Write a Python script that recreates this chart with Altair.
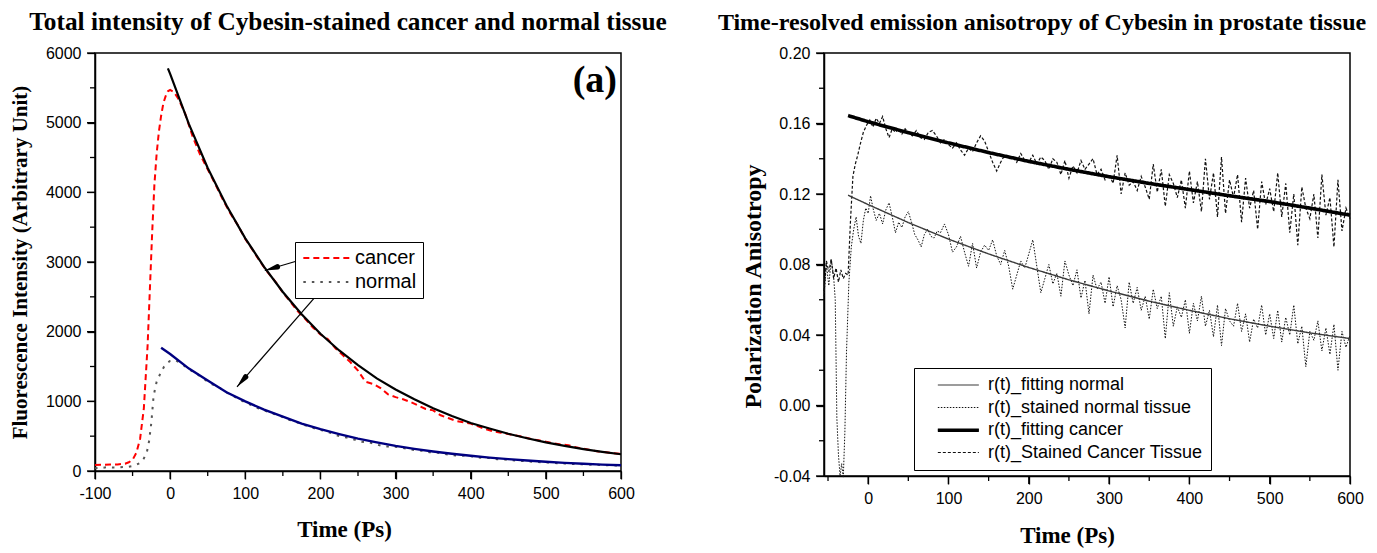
import math
import altair as alt
import pandas as pd

# ---------------- Panel (a): total fluorescence intensity ----------------
cancer_t = [-100, -90, -80, -70, -60, -55, -50, -45, -40, -35, -30, -27, -24, -21, -18, -15, -12, -9, -6, -3,
            0, 5, 10, 15, 20, 30, 40, 50, 60, 70, 80, 90, 100, 110, 120, 130, 140, 150, 160, 170, 180, 190,
            200, 210, 220, 230, 240, 250, 260, 270, 280, 290, 300, 310, 320, 330, 340, 350, 360, 370, 380,
            390, 400, 410, 420, 430, 440, 450, 460, 470, 480, 490, 500, 510, 520, 530, 540, 550, 560, 570,
            580, 590, 600]
cancer_v = [85, 90, 92, 95, 105, 125, 160, 260, 460, 900, 1800, 2600, 3400, 4100, 4550, 4870, 5100, 5280, 5380, 5450,
            5470, 5440, 5360, 5250, 5130, 4800, 4540, 4330, 4120, 3900, 3700, 3530, 3330, 3170, 3000, 2850, 2720,
            2560, 2430, 2290, 2180, 2060, 1960, 1890, 1760, 1660, 1560, 1440, 1280, 1250, 1190, 1100, 1060, 1030,
            990, 940, 890, 870, 800, 760, 720, 700, 680, 640, 600, 570, 550, 530, 510, 490, 460, 440, 420, 400,
            380, 370, 340, 320, 300, 280, 270, 255, 245]

normal_t = [-100, -90, -84, -74, -66, -55, -48, -40, -35, -31, -28, -25, -22, -18, -13, -8, -4, 0, 7, 15, 25, 35,
            45, 55, 65, 75, 85, 95, 105, 115, 125, 135, 145, 155, 165, 175, 185, 195, 205, 215, 225, 235, 245,
            255, 265, 275, 285, 295, 305, 315, 325, 335, 345, 355, 365, 375, 385, 395, 405, 415, 425, 435, 445,
            455, 465, 475, 485, 495, 505, 515, 525, 535, 545, 555, 565, 575, 585, 595, 600]
normal_v = [40, 45, 55, 50, 55, 60, 75, 115, 180, 270, 430, 700, 1080, 1280, 1400, 1500, 1550, 1580, 1590, 1540,
            1460, 1400, 1320, 1250, 1200, 1130, 1070, 1010, 960, 910, 870, 830, 800, 740, 720, 670, 640, 600, 580,
            540, 500, 480, 450, 420, 410, 380, 350, 355, 340, 320, 300, 290, 270, 265, 245, 230, 215, 225, 200,
            190, 185, 170, 165, 155, 145, 140, 130, 125, 120, 112, 108, 100, 98, 92, 90, 85, 82, 80, 80]

fitc_t = [-3, 0, 25, 50, 75, 100, 125, 150, 175, 200, 225, 250, 275, 300, 325, 350, 375, 400, 425, 450, 475,
          500, 525, 550, 575, 600]
fitc_v = [5780, 5700, 4980, 4350, 3810, 3340, 2930, 2570, 2250, 1970, 1730, 1520, 1330, 1170, 1030, 900, 790,
          690, 610, 535, 470, 410, 360, 315, 275, 240]

fitn_t = [-12, 0, 25, 50, 75, 100, 125, 150, 175, 200, 225, 250, 275, 300, 325, 350, 375, 400, 425, 450, 475,
          500, 525, 550, 575, 600]
fitn_v = [1770, 1680, 1470, 1300, 1130, 1000, 880, 780, 680, 600, 530, 465, 410, 360, 318, 280, 247, 218, 192,
          170, 150, 132, 117, 104, 92, 82]

arrow_x1 = [189, 205]
arrow_y1 = [3079, 2647]
arrow_x2 = [126, 89]
arrow_y2 = [2878, 1209]

panel_label = ["(a)"]
panel_label_x = [600]
panel_label_y = [5600]

# ---------------- Panel (b): anisotropy ----------------
fit_norm_t = [-25, 0, 50, 100, 150, 200, 250, 300, 350, 400, 450, 500, 550, 600]
fit_norm_v = [0.1193, 0.1140, 0.1038, 0.0944, 0.0860, 0.0783, 0.0713, 0.0650, 0.0592, 0.0540, 0.0492, 0.0450,
              0.0412, 0.0380]
fit_canc_t = [-25, 0, 50, 100, 150, 200, 250, 300, 350, 400, 450, 500, 550, 600]
fit_canc_v = [0.1645, 0.1610, 0.1548, 0.1490, 0.1435, 0.1385, 0.1340, 0.1298, 0.1260, 0.1225, 0.1190, 0.1157,
              0.1120, 0.1080]

canc_t = [-55, -52, -49, -46, -43, -40, -37, -34, -31, -28, -25, -22, -19, -16, -13, -10, -6, -2, 2, 6, 10, 14,
          18, 22, 26, 30, 34, 38, 42, 46, 50, 55, 60, 65, 70, 75, 80, 85, 90, 95, 100, 105, 110, 115, 120, 125,
          130, 135, 140, 145, 150, 155, 160, 165, 170, 175, 180, 185, 190, 195, 200, 205, 210, 215, 220, 225,
          230, 235, 240, 245, 250, 255, 260, 265, 270, 275, 280, 285, 290, 295, 300, 305, 310, 315, 320, 325,
          330, 335, 340, 345, 350, 355, 360, 365, 370, 375, 380, 385, 390, 395, 400, 405, 410, 415, 420, 425,
          430, 435, 440, 445, 450, 455, 460, 465, 470, 475, 480, 485, 490, 495, 500, 505, 510, 515, 520, 525,
          530, 535, 540, 545, 550, 555, 560, 565, 570, 575, 580, 585, 590, 595, 600]
canc_v = [0.065, 0.082, 0.076, 0.083, 0.072, 0.078, 0.070, 0.077, 0.072, 0.075, 0.074, 0.105, 0.130, 0.137,
          0.142, 0.148, 0.155, 0.159, 0.162, 0.158, 0.163, 0.160, 0.164, 0.157, 0.152, 0.157, 0.155, 0.157,
          0.154, 0.157, 0.155, 0.153, 0.156, 0.152, 0.151, 0.155, 0.156, 0.153, 0.149, 0.151, 0.148, 0.146,
          0.149, 0.145, 0.142, 0.146, 0.144, 0.149, 0.153, 0.150, 0.144, 0.138, 0.133, 0.138, 0.142, 0.140,
          0.141, 0.138, 0.143, 0.139, 0.138, 0.142, 0.137, 0.141, 0.139, 0.134, 0.140, 0.138, 0.131, 0.139,
          0.129, 0.136, 0.132, 0.139, 0.134, 0.137, 0.140, 0.131, 0.134, 0.128, 0.131, 0.126, 0.142, 0.120,
          0.132, 0.125, 0.127, 0.122, 0.130, 0.124, 0.117, 0.137, 0.121, 0.134, 0.113, 0.131, 0.126, 0.118,
          0.128, 0.112, 0.133, 0.115, 0.127, 0.110, 0.140, 0.117, 0.132, 0.107, 0.141, 0.109, 0.128, 0.118,
          0.131, 0.104, 0.129, 0.112, 0.122, 0.100, 0.127, 0.114, 0.123, 0.110, 0.132, 0.107, 0.126, 0.098,
          0.120, 0.091, 0.124, 0.112, 0.106, 0.120, 0.095, 0.131, 0.108, 0.118, 0.090, 0.128, 0.099, 0.112,
          0.106]

norm_t = [-55, -52, -49, -46, -43, -41, -39, -37, -35, -33, -31, -29, -27, -24, -21, -18, -15, -12, -9, -6, -3,
          0, 3, 6, 10, 14, 18, 22, 26, 30, 34, 38, 42, 46, 50, 54, 58, 62, 66, 70, 74, 78, 82, 86, 90, 95, 100,
          105, 110, 115, 120, 125, 130, 135, 140, 145, 150, 155, 160, 165, 170, 175, 180, 185, 190, 195, 200,
          205, 210, 215, 220, 225, 230, 235, 240, 245, 250, 255, 260, 265, 270, 275, 280, 285, 290, 295, 300,
          305, 310, 315, 320, 325, 330, 335, 340, 345, 350, 355, 360, 365, 370, 375, 380, 385, 390, 395, 400,
          405, 410, 415, 420, 425, 430, 435, 440, 445, 450, 455, 460, 465, 470, 475, 480, 485, 490, 495, 500,
          505, 510, 515, 520, 525, 530, 535, 540, 545, 550, 555, 560, 565, 570, 575, 580, 585, 590, 595, 600]
norm_v = [0.062, 0.080, 0.068, 0.083, 0.073, 0.060, -0.007, -0.028, -0.040, -0.033, -0.041, -0.015, 0.030,
          0.070, 0.090, 0.100, 0.107, 0.096, 0.092, 0.105, 0.112, 0.109, 0.119, 0.112, 0.105, 0.109, 0.103,
          0.111, 0.115, 0.107, 0.098, 0.104, 0.101, 0.107, 0.110, 0.104, 0.097, 0.094, 0.090, 0.097, 0.100,
          0.096, 0.095, 0.099, 0.098, 0.103, 0.097, 0.087, 0.090, 0.096, 0.087, 0.079, 0.092, 0.078, 0.087,
          0.091, 0.088, 0.094, 0.085, 0.080, 0.088, 0.079, 0.066, 0.074, 0.082, 0.078, 0.086, 0.094, 0.079,
          0.064, 0.072, 0.080, 0.069, 0.075, 0.062, 0.082, 0.074, 0.068, 0.077, 0.061, 0.071, 0.052, 0.074,
          0.066, 0.070, 0.058, 0.073, 0.056, 0.068, 0.060, 0.044, 0.070, 0.058, 0.067, 0.054, 0.062, 0.049,
          0.066, 0.055, 0.062, 0.038, 0.064, 0.045, 0.056, 0.050, 0.060, 0.041, 0.058, 0.048, 0.062, 0.045,
          0.054, 0.039, 0.057, 0.034, 0.055, 0.048, 0.045, 0.058, 0.042, 0.052, 0.036, 0.049, 0.044, 0.057,
          0.040, 0.052, 0.038, 0.054, 0.036, 0.050, 0.040, 0.057, 0.035, 0.045, 0.022, 0.042, 0.037, 0.048,
          0.031, 0.044, 0.029, 0.046, 0.020, 0.042, 0.033, 0.040]

aniso_series = ["r(t)_fitting normal", "r(t)_stained normal tissue", "r(t)_fitting cancer",
                "r(t)_Stained Cancer Tissue"]

left_major_x = list(range(-100, 601, 100))
left_minor_x = list(range(-50, 601, 100))
left_major_y = list(range(0, 6001, 1000))
left_minor_y = list(range(500, 6001, 1000))
right_major_x = list(range(0, 601, 100))
right_minor_x = list(range(-50, 601, 100))
right_major_y = [-0.04, 0.0, 0.04, 0.08, 0.12, 0.16, 0.20]
right_minor_y = [-0.02, 0.02, 0.06, 0.10, 0.14, 0.18]

SERIF = "Liberation Serif"
SANS = "Liberation Sans"

W_A, H_A = 526, 418
W_B, H_B = 526, 423
XDOM_A, YDOM_A = [-100, 600], [0, 6000]
XDOM_B, YDOM_B = [-55, 600], [-0.04, 0.20]
MAJOR, MINOR = 8, 5

# ---------------- build tables ----------------
dfa_data = pd.concat([
    pd.DataFrame({"t": cancer_t, "v": cancer_v, "series": "cancer"}),
    pd.DataFrame({"t": normal_t, "v": normal_v, "series": "normal"}),
])
dfa_fitc = pd.DataFrame({"t": fitc_t, "v": fitc_v})
dfa_fitn = pd.DataFrame({"t": fitn_t, "v": fitn_v})
dfa_arrow = pd.DataFrame({"t": arrow_x1, "v": arrow_y1, "t2": arrow_x2, "v2": arrow_y2})
dfa_label = pd.DataFrame({"t": panel_label_x, "v": panel_label_y, "label": panel_label})

# arrowheads: tapered trail from a point 13 px back along each arrow to its tip
px_x = W_A / (XDOM_A[1] - XDOM_A[0])
px_y = H_A / (YDOM_A[1] - YDOM_A[0])
head_rows = []
for i, (x1, y1, x2, y2) in enumerate(zip(arrow_x1, arrow_y1, arrow_x2, arrow_y2)):
    dx, dy = (x2 - x1) * px_x, (y2 - y1) * px_y
    n = math.hypot(dx, dy)
    ux, uy = dx / n, dy / n
    head_rows.append({"id": i, "k": 0, "t": x2 - 13 * ux / px_x, "v": y2 - 13 * uy / px_y, "w": 5.5})
    head_rows.append({"id": i, "k": 1, "t": x2, "v": y2, "w": 0.1})
dfa_head = pd.DataFrame(head_rows)

dfb = pd.concat([
    pd.DataFrame({"t": norm_t, "v": norm_v, "series": aniso_series[1]}),
    pd.DataFrame({"t": canc_t, "v": canc_v, "series": aniso_series[3]}),
    pd.DataFrame({"t": fit_norm_t, "v": fit_norm_v, "series": aniso_series[0]}),
    pd.DataFrame({"t": fit_canc_t, "v": fit_canc_v, "series": aniso_series[2]}),
])


def major_axis(values, label_text, title, title_size, title_pad, **kw):
    args = dict(
        values=values, title=title, grid=False, labelExpr=label_text, ticks=True,
        tickSize=MAJOR, tickColor="black", tickWidth=1.3, domainColor="black", domainWidth=1.5,
        labelFont=SANS, labelFontSize=16, labelColor="black", labelPadding=6,
        titleFont=SERIF, titleFontSize=title_size, titleFontWeight="bold", titleColor="black",
        titlePadding=title_pad, labelFlush=False, labelOverlap=False,
    )
    args.update(kw)
    return alt.Axis(**args)


def tick_layers(xenc, yenc, height, xmaj, xmin, ymaj, ymin):
    """Outward tick marks drawn through the panel's own scales."""
    layers = []
    for vals, size in ((xmaj, MAJOR), (xmin, MINOR)):
        layers.append(alt.Chart(pd.DataFrame({"t": vals})).mark_rule(color="black", strokeWidth=1.3).encode(
            x=xenc, y=alt.value(height), y2=alt.value(height + size)))
    for vals, size in ((ymaj, MAJOR), (ymin, MINOR)):
        layers.append(alt.Chart(pd.DataFrame({"v": vals})).mark_rule(color="black", strokeWidth=1.3).encode(
            y=yenc, x=alt.value(0), x2=alt.value(-size)))
    return layers


INT_LABEL = "'' + datum.value"
DEC_LABEL = "replace(format(datum.value, '.2f'), '\u2212', '-')"

sx_a = alt.Scale(domain=XDOM_A, nice=False, zero=False)
sy_a = alt.Scale(domain=YDOM_A, nice=False, zero=False)
xa = alt.X("t:Q", scale=sx_a, axis=major_axis(left_major_x, INT_LABEL, "Time (Ps)", 23, 17, titleX=249))
ya = alt.Y("v:Q", scale=sy_a, axis=major_axis(left_major_y, INT_LABEL,
                                              "Fluorescence Intensity (Arbitrary Unit)", 21, 15))

legend_a = alt.Legend(title=None, orient="none", legendX=200, legendY=189, strokeColor="black",
                      fillColor="white", padding=6, labelFont=SANS, labelFontSize=20, labelColor="black",
                      symbolType="M-1,0H5", symbolSize=235, symbolStrokeWidth=1.8, labelOffset=34,
                      rowPadding=4)

a_data = alt.Chart(dfa_data).mark_line().encode(
    x=xa, y=ya,
    color=alt.Color("series:N", scale=alt.Scale(domain=["cancer", "normal"], range=["#ff0000", "#555555"]),
                    legend=legend_a),
    strokeDash=alt.StrokeDash("series:N", scale=alt.Scale(domain=["cancer", "normal"],
                                                          range=[[6, 4], [2.5, 6]]), legend=legend_a),
)
a_fitc = alt.Chart(dfa_fitc).mark_line(color="black", strokeWidth=2.2).encode(x=xa, y=ya)
a_fitn = alt.Chart(dfa_fitn).mark_line(color="#000080", strokeWidth=2.4).encode(x=xa, y=ya)
a_arrow = alt.Chart(dfa_arrow).mark_rule(color="black", strokeWidth=1.2).encode(
    x=xa, y=ya, x2="t2:Q", y2="v2:Q")
a_head = alt.Chart(dfa_head).mark_trail(color="black").encode(
    x=xa, y=ya, size=alt.Size("w:Q", scale=None), detail="id:N", order="k:Q")
a_label = alt.Chart(dfa_label).mark_text(font=SERIF, fontSize=38, fontWeight="bold", align="right",
                                         baseline="middle", dx=-4, color="black").encode(
    x=xa, y=ya, text="label:N")

left = alt.layer(a_data, a_fitc, a_fitn, a_arrow, a_head, a_label,
                 *tick_layers(xa, ya, H_A, left_major_x, left_minor_x, left_major_y, left_minor_y)).properties(
    width=W_A, height=H_A,
    title=alt.TitleParams("Total intensity of Cybesin-stained cancer and normal tissue", font=SERIF,
                          fontSize=25.3, fontWeight="bold", color="black", anchor="middle", frame="group",
                          dx=-10, offset=10),
)

# ---------------- right panel ----------------
sx_b = alt.Scale(domain=XDOM_B, nice=False, zero=False)
sy_b = alt.Scale(domain=YDOM_B, nice=False, zero=False)
xb = alt.X("t:Q", scale=sx_b, axis=major_axis(right_major_x, INT_LABEL, "Time (Ps)", 23, 18, titleX=243))
yb = alt.Y("v:Q", scale=sy_b, axis=major_axis(right_major_y, DEC_LABEL, "Polarization Anisotropy",
                                              24, 8, titleY=233))

NB = "\u00a0"
LEG_B = dict(orient="none", legendX=90, padding=8, labelFont=SANS, labelFontSize=18,
             symbolType="M1,0H7", symbolSize=187, labelOffset=48, rowPadding=4.5,
             labelExpr=f"datum.label + '{NB * 5}'", labelLimit=400)
legend_b = alt.Legend(title=None, legendY=315, strokeColor="black", fillColor="white", labelColor="black",
                      symbolStrokeWidth=1.2, values=aniso_series, **LEG_B)
# the heavy stroke of the cancer fit, laid over the third legend row
legend_b_w = alt.Legend(title=None, legendY=360.3, labelOpacity=0, symbolStrokeColor="black",
                        values=[aniso_series[2]], **LEG_B)

# stroke width through a point scale: the two data traces at ~1 px, the normal fit a bit heavier,
# the cancer fit thick (spacer names only pad the scale, they are not drawn)
sw_domain = [aniso_series[1], aniso_series[3], aniso_series[0]] + [f"_{i}" for i in range(3, 13)] + [aniso_series[2]]

b_lines = alt.Chart(dfb).mark_line().encode(
    x=xb, y=yb,
    color=alt.Color("series:N", scale=alt.Scale(domain=aniso_series,
                                                range=["#3a3a3a", "#111111", "#000000", "#111111"]),
                    legend=legend_b),
    strokeDash=alt.StrokeDash("series:N", scale=alt.Scale(domain=aniso_series,
                                                          range=[[1, 0], [1.5, 1.5], [1, 0], [3, 2]]),
                              legend=legend_b),
    strokeWidth=alt.StrokeWidth("series:N", scale=alt.Scale(type="point", domain=sw_domain, range=[1, 3.6],
                                                            padding=0),
                                legend=legend_b_w),
)

right = alt.layer(b_lines,
                  *tick_layers(xb, yb, H_B, right_major_x, right_minor_x, right_major_y, right_minor_y)).properties(
    width=W_B, height=H_B,
    title=alt.TitleParams("Time-resolved emission anisotropy of Cybesin in prostate tissue", font=SERIF,
                          fontSize=24, fontWeight="bold", color="black", anchor="middle", frame="group",
                          dx=-45, offset=10),
)

chart = alt.hconcat(left, right, spacing=49).resolve_scale(
    color="independent", strokeDash="independent", strokeWidth="independent"
).resolve_legend(
    color="independent", strokeDash="independent", strokeWidth="independent"
).properties(
    padding={"left": 0, "top": 0, "right": 0, "bottom": 0}, background="white"
).configure_view(stroke="black", strokeWidth=1.5)

chart.save("out.html", embed_options={"renderer": "svg", "actions": False})
